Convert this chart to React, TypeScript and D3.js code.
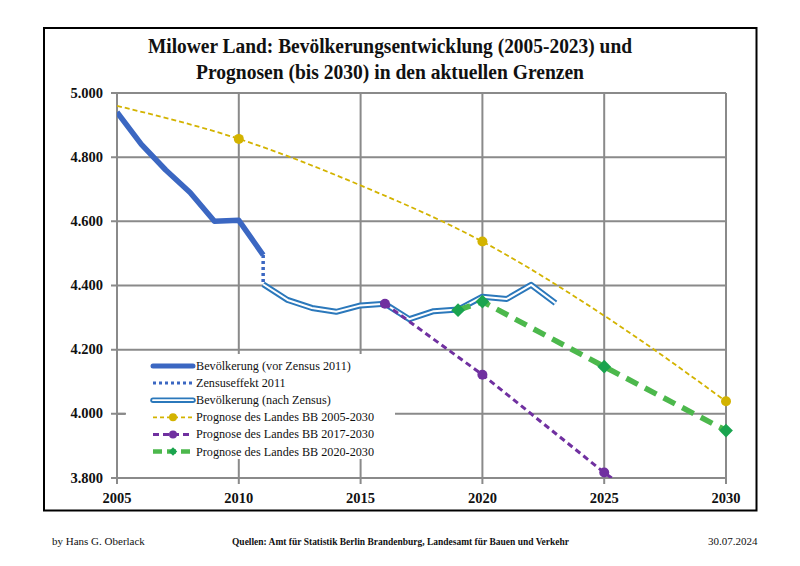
import React from "react";
import * as d3 from "d3";

const yearsVor = [2005, 2006, 2007, 2008, 2009, 2010, 2011];
const valuesVor = [4940, 4840, 4760, 4690, 4600, 4603, 4495];

const yearsZensus = [2011, 2011];
const valuesZensus = [4495, 4404];

const yearsNach = [2011, 2012, 2013, 2014, 2015, 2016, 2017, 2018, 2019, 2020, 2021, 2022, 2023];
const valuesNach = [4404, 4355, 4330, 4318, 4338, 4343, 4295, 4320, 4325, 4365, 4358, 4402, 4345];

const yearsP05 = [2005, 2010, 2015, 2020, 2025, 2030];
const valuesP05 = [4960, 4857, 4712, 4537, 4306, 4039];
const markersP05 = [2010, 2020, 2030];

const yearsP17 = [2016, 2020, 2025, 2030];
const valuesP17 = [4343, 4122, 3817, 3540];
const markersP17 = [2016, 2020, 2025];

const yearsP20 = [2019, 2020, 2025, 2030];
const valuesP20 = [4323, 4350, 4147, 3948];
const markersP20 = [2019, 2020, 2025, 2030];

const xTicks = [2005, 2010, 2015, 2020, 2025, 2030];
const yTicks = [3800, 4000, 4200, 4400, 4600, 4800, 5000];

const legendLabels = [
  "Bevölkerung (vor Zensus 2011)",
  "Zensuseffekt 2011",
  "Bevölkerung (nach Zensus)",
  "Prognose des Landes BB 2005-2030",
  "Prognose des Landes BB 2017-2030",
  "Prognose des Landes BB 2020-2030",
];

const titleLines = [
  "Milower Land:  Bevölkerungsentwicklung (2005-2023) und",
  "Prognosen (bis 2030) in den aktuellen Grenzen",
];

const BLUE = "#3b67c2";
const BLUE2 = "#2b78bb";
const YELLOW = "#d3b300";
const PURPLE = "#7030a0";
const GREEN = "#4cb84c";
const GREEN_M = "#1aa44f";
const GRID = "#8a8a8a";
const SERIF = "'Liberation Serif', 'DejaVu Serif', serif";

export default function App() {
  const x = d3.scaleLinear().domain([2005, 2030]).range([117, 726]);
  const y = d3.scaleLinear().domain([3800, 5000]).range([478, 93]);

  const line = (ys: number[], vs: number[], curve: d3.CurveFactory = d3.curveLinear) =>
    d3.line<number>().x((_, i) => x(ys[i])).y((v) => y(v)).curve(curve)(vs) || "";

  const valAt = (ys: number[], vs: number[], yr: number) => vs[ys.indexOf(yr)];
  const fmt = (v: number) => d3.format(",")(v).replace(",", ".");

  const diamond = d3.symbol().type(d3.symbolDiamond2).size(120)() || "";
  const diamondSmall = d3.symbol().type(d3.symbolDiamond2).size(45)() || "";

  const legY = d3.range(6).map((i) => 366 + i * 17.1);
  const lx0 = 153, lx1 = 193;

  return (
    <svg width={800} height={566} style={{ display: "block", position: "absolute", left: 0, top: 0 }}>
      <rect x={0} y={0} width={800} height={566} fill="#fff" />
      <rect x={44} y={28} width={712.5} height={482.5} fill="#fff" stroke="#000" strokeWidth={2} />

      {titleLines.map((t, i) => (
        <text key={i} x={390} y={53 + i * 26} textAnchor="middle" fontFamily={SERIF} fontWeight="bold"
          fontSize={20} textLength={i === 0 ? 484 : 388} lengthAdjust="spacingAndGlyphs" fill="#111">{t}</text>
      ))}

      <defs>
        <clipPath id="plot">
          <rect x={x(2005)} y={y(5000) - 10} width={x(2030) - x(2005) + 15} height={y(3800) - y(5000) + 10} />
        </clipPath>
      </defs>

      {/* grid */}
      {yTicks.map((t) => (
        <g key={"y" + t}>
          <line x1={x(2005) - 6} x2={x(2030)} y1={y(t)} y2={y(t)} stroke={GRID} strokeWidth={2} />
          <text x={103} y={y(t) + 4.5} textAnchor="end" fontFamily={SERIF} fontWeight="bold" fontSize={14.5} fill="#111">{fmt(t)}</text>
        </g>
      ))}
      {xTicks.map((t) => (
        <g key={"x" + t}>
          <line x1={x(t)} x2={x(t)} y1={y(5000)} y2={y(3800) + 6} stroke={GRID} strokeWidth={2} />
          <text x={x(t)} y={503} textAnchor="middle" fontFamily={SERIF} fontWeight="bold" fontSize={14.5} fill="#111">{t}</text>
        </g>
      ))}

      {/* legend background */}
      <rect x={126} y={354} width={269} height={105} fill="#fff" />
      <line x1={117} x2={125} y1={y(4000)} y2={y(4000)} stroke={GRID} strokeWidth={2} />

      <g clipPath="url(#plot)">
        <path d={line(yearsP05, valuesP05, d3.curveMonotoneX)} fill="none" stroke={YELLOW} strokeWidth={1.8} strokeDasharray="5,3" />
        {markersP05.map((yr) => (
          <circle key={yr} cx={x(yr)} cy={y(valAt(yearsP05, valuesP05, yr))} r={5} fill={YELLOW} />
        ))}

        <path d={line(yearsVor, valuesVor)} fill="none" stroke={BLUE} strokeWidth={5.5} strokeLinejoin="round" />
        <path d={line(yearsZensus, valuesZensus)} fill="none" stroke={BLUE} strokeWidth={3.5} strokeDasharray="3,3" />

        <path d={line(yearsNach, valuesNach)} fill="none" stroke={BLUE2} strokeWidth={6} strokeLinejoin="round" />
        <path d={line(yearsNach, valuesNach)} fill="none" stroke="#fff" strokeWidth={2} strokeLinejoin="round" />

        <path d={line(yearsP17, valuesP17)} fill="none" stroke={PURPLE} strokeWidth={3} strokeDasharray="6,4" />
        {markersP17.map((yr) => (
          <circle key={yr} cx={x(yr)} cy={y(valAt(yearsP17, valuesP17, yr))} r={5} fill={PURPLE} />
        ))}

        <path d={line(yearsP20, valuesP20)} fill="none" stroke={GREEN} strokeWidth={5.5} strokeDasharray="13,8" />
        {markersP20.map((yr) => (
          <path key={yr} d={diamond} transform={`translate(${x(yr)},${y(valAt(yearsP20, valuesP20, yr))})`} fill={GREEN_M} />
        ))}
      </g>

      {/* legend */}
      <g fontFamily={SERIF} fontSize={12.2} fill="#111">
        <line x1={lx0} x2={lx1} y1={legY[0]} y2={legY[0]} stroke={BLUE} strokeWidth={5} strokeLinecap="round" />
        <line x1={lx0} x2={lx1} y1={legY[1]} y2={legY[1]} stroke={BLUE} strokeWidth={3} strokeDasharray="3,3" />
        <line x1={lx0} x2={lx1} y1={legY[2]} y2={legY[2]} stroke={BLUE2} strokeWidth={5.5} strokeLinecap="round" />
        <line x1={lx0} x2={lx1} y1={legY[2]} y2={legY[2]} stroke="#fff" strokeWidth={1.8} strokeLinecap="round" />
        <line x1={lx0} x2={lx1} y1={legY[3]} y2={legY[3]} stroke={YELLOW} strokeWidth={1.8} strokeDasharray="4,3" />
        <circle cx={(lx0 + lx1) / 2} cy={legY[3]} r={4} fill={YELLOW} />
        <line x1={lx0} x2={lx1} y1={legY[4]} y2={legY[4]} stroke={PURPLE} strokeWidth={3} strokeDasharray="6,4" />
        <circle cx={(lx0 + lx1) / 2} cy={legY[4]} r={4} fill={PURPLE} />
        <line x1={lx0} x2={lx1} y1={legY[5]} y2={legY[5]} stroke={GREEN} strokeWidth={4.5} strokeDasharray="9,5" />
        <path d={diamondSmall} transform={`translate(${(lx0 + lx1) / 2},${legY[5]})`} fill={GREEN_M} />
        {legendLabels.map((l, i) => (
          <text key={i} x={196} y={legY[i] + 4}>{l}</text>
        ))}
      </g>

      {/* footer */}
      <text x={52} y={545} fontFamily={SERIF} fontSize={11} fill="#111">by Hans G. Oberlack</text>
      <text x={232} y={545} fontFamily={SERIF} fontSize={10.5} fontWeight="bold" textLength={337}
        lengthAdjust="spacingAndGlyphs" fill="#111">Quellen: Amt für Statistik Berlin Brandenburg, Landesamt für Bauen und Verkehr</text>
      <text x={708} y={545} fontFamily={SERIF} fontSize={11} fill="#111">30.07.2024</text>
    </svg>
  );
}
